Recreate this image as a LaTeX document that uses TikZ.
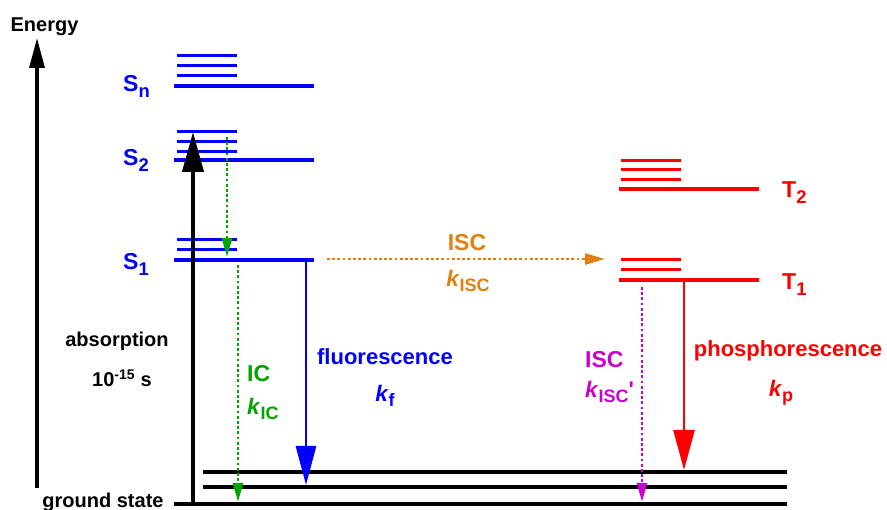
\documentclass[tikz,border=0pt]{standalone}
\usepackage{fontspec}
\usepackage{graphicx}
\setmainfont{Liberation Sans}
\usetikzlibrary{positioning, calc, arrows.meta}
\definecolor{iscorange}{RGB}{224,128,16}
\definecolor{icgreen}{RGB}{0,165,0}
\definecolor{iscmagenta}{RGB}{204,0,204}
\newcommand{\lowtxt}[1]{\raisebox{-0.22em}{\scalebox{0.8}{#1}}}
\tikzstyle{Level} = [line width=4pt]
\tikzstyle{Sub} = [line width=3pt]
\tikzstyle{Ground} = [line width=3.2pt]
\tikzstyle{Arrow} = [line width=2.8pt, -{Triangle[length=40pt, width=21pt]}]
\tikzstyle{Dots} = [line width=2.8pt, dash pattern=on 2.8pt off 2.4pt,
  -{Triangle[length=19pt, width=10pt]}]
\tikzstyle{Big} = [inner sep=0pt, font=\fontsize{23}{26}\selectfont\bfseries]
\tikzstyle{Kfont} = [inner sep=0pt, font=\fontsize{22.5}{26}\selectfont\bfseries]
\tikzstyle{Mid} = [inner sep=0pt, font=\fontsize{22}{26}\selectfont\bfseries]
\tikzstyle{Small} = [inner sep=0pt, font=\fontsize{20}{24}\selectfont\bfseries]

\begin{document}
\begin{tikzpicture}[x=1pt, y=1pt]
    \useasboundingbox (0,0) rectangle (887,510);
    % energy axis
    \coordinate (e0) at (37,22);
    \coordinate (e1) at (37,472);
    \draw[line width=3.2pt, -{Triangle[length=30pt, width=15pt]}] (e0) -- (e1);
    \node (1) [Small, anchor=base] at (44.5,478) {Energy};

    % singlet and triplet levels
    \foreach \n/\y in {n/424, 2/350, 1/250}
        \draw[Level, blue] (174,\y) coordinate (S\n a) -- (314,\y) coordinate (S\n b);
    \foreach \y in {454, 444, 434, 378, 368, 358, 270, 260}
        \draw[Sub, blue] (177,\y) -- (237,\y);
    \foreach \n/\y in {2/321, 1/230}
        \draw[Level, red] (619,\y) coordinate (T\n a) -- (759,\y) coordinate (T\n b);
    \foreach \y in {349, 340, 330, 250, 240}
        \draw[Sub, red] (621,\y) -- (681,\y);

    % ground state
    \draw[Ground] (174,6) coordinate (G0a) -- (787,6) coordinate (G0b);
    \draw[Ground] (203,23) coordinate (G1a) -- (787,23) coordinate (G1b);
    \draw[Ground] (203,38) coordinate (G2a) -- (787,38) coordinate (G2b);

    \node (2) [Big, blue, anchor=base west] at (123,418) {S\lowtxt{n}};
    \node (3) [Big, blue, anchor=base west] at (123,344) {S\lowtxt{2}};
    \node (4) [Big, blue, anchor=base west] at (123,240) {S\lowtxt{1}};
    \node (5) [Big, red, anchor=base west] at (782,312) {T\lowtxt{2}};
    \node (6) [Big, red, anchor=base west] at (782,220) {T\lowtxt{1}};
    \node (7) [Small, anchor=base] at (103,2.5) {ground state};

    % transitions
    \coordinate (a0) at (193,6);
    \coordinate (a1) at (193,378);
    \coordinate (ic0) at (227,373);
    \coordinate (ic1) at (227,253);
    \coordinate (ic2) at (238,245);
    \coordinate (ic3) at (238,8);
    \coordinate (f0) at (306,250);
    \coordinate (f1) at (306,25);
    \coordinate (isc0) at (327,251);
    \coordinate (isc1) at (605,251);
    \coordinate (isc2) at (642,223);
    \coordinate (isc3) at (642,8);
    \coordinate (p0) at (684,230);
    \coordinate (p1) at (684,40);
    \draw[Arrow, line width=4.2pt] (a0) -- (a1);
    \draw[Dots, icgreen] (ic0) -- (ic1);
    \draw[Dots, icgreen] (ic2) -- (ic3);
    \draw[Arrow, blue, -{Triangle[length=39pt, width=20pt]}] (f0) -- (f1);
    \draw[Dots, iscorange, -{Triangle[length=20pt, width=11pt]}] (isc0) -- (isc1);
    \draw[Dots, iscmagenta] (isc2) -- (isc3);
    \draw[Arrow, red] (p0) -- (p1);

    \node (8) [Small, anchor=base] at (117,163) {absorption};
    \node (9) [Small, anchor=base] at (122,123) {10\textsuperscript{-15} s};
    \node (10) [Big, icgreen, anchor=base west] at (247,128) {IC};
    \node (11) [Kfont, icgreen, anchor=base west] at (247,95) {\textit{k}\lowtxt{IC}};
    \node (12) [Mid, blue, anchor=base] at (385,145) {fluorescence};
    \node (13) [Kfont, blue, anchor=base] at (385,108) {\textit{k}\lowtxt{f}};
    \node (14) [Big, iscorange, anchor=base] at (467,259) {ISC};
    \node (15) [Kfont, iscorange, anchor=base] at (468,223) {\textit{k}\lowtxt{ISC}};
    \node (16) [Big, iscmagenta, anchor=base west] at (585,142) {ISC};
    \node (17) [Kfont, iscmagenta, anchor=base west] at (585,112) {\textit{k}\lowtxt{ISC}\textquotesingle};
    \node (18) [Mid, red, anchor=base] at (788,153) {phosphorescence};
    \node (19) [Kfont, red, anchor=base] at (781,113) {\textit{k}\lowtxt{p}};
\end{tikzpicture}
\end{document}
